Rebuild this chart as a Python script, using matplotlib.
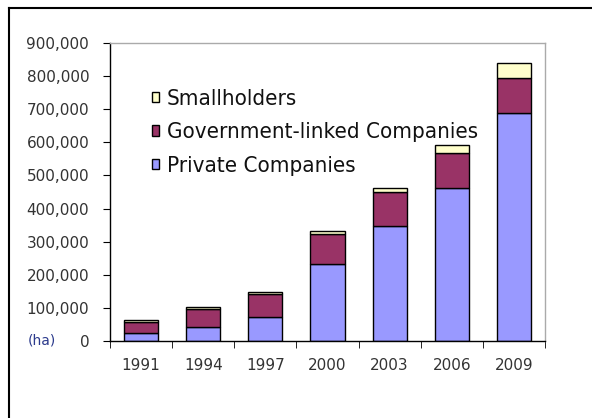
import matplotlib
matplotlib.use("Agg")
import matplotlib.pyplot as plt
import numpy as np
from matplotlib.lines import Line2D

years = ["1991", "1994", "1997", "2000", "2003", "2006", "2009"]
private = [23000, 43000, 73000, 232000, 348000, 463000, 688000]
government = [35000, 55000, 69000, 91000, 103000, 106000, 105000]
smallholders = [5000, 5000, 5000, 8000, 11000, 23000, 48000]
yticks = [0, 100000, 200000, 300000, 400000, 500000, 600000, 700000, 800000, 900000]

fig = plt.figure(figsize=(5.92, 4.18), dpi=100)
fig.patch.set_facecolor("white")
ax = fig.add_axes([110/592, 1-341/418, 435/592, 298/418])

x = np.arange(len(years))
w = 0.55
p = np.array(private)
g = np.array(government)
s = np.array(smallholders)
b1 = ax.bar(x, p, w, color="#9999FF", edgecolor="black", linewidth=1.0, label="Private Companies")
b2 = ax.bar(x, g, w, bottom=p, color="#993366", edgecolor="black", linewidth=1.0, label="Government-linked Companies")
b3 = ax.bar(x, s, w, bottom=p+g, color="#FFFFCC", edgecolor="black", linewidth=1.0, label="Smallholders")

ax.set_xlim(-0.5, len(years)-0.5)
ax.set_ylim(0, 900000)
ax.set_yticks(yticks)
ax.set_yticklabels([f"{v:,}" for v in yticks], fontsize=11, color="#333333")
ax.set_xticks(x)
ax.set_xticklabels(years, fontsize=11, color="#333333")
ax.tick_params(axis="x", length=0, pad=12)
ax.set_xticks(np.arange(-0.5, len(years)), minor=True)
ax.tick_params(axis="x", which="minor", length=5, direction="out", color="black")
ax.tick_params(axis="y", length=5, direction="out", color="black", pad=10)

for side in ["top", "right"]:
    ax.spines[side].set_color("#AAAAAA")
    ax.spines[side].set_linewidth(1.0)
for side in ["left", "bottom"]:
    ax.spines[side].set_color("black")
    ax.spines[side].set_linewidth(1.0)

leg = ax.legend(handles=[b3, b2, b1], loc="upper left", bbox_to_anchor=(0.075, 0.875),
                frameon=False, fontsize=16, handlelength=0.35, handleheight=0.35,
                handletextpad=0.35, labelspacing=0.6, borderaxespad=0)
for t in leg.get_texts():
    t.set_color("#111111")
    t.set_fontstretch("condensed")

fig.text(28/592, 1-340/418, "(ha)", fontsize=10, color="#2B3A8C", va="center", ha="left")

fig.add_artist(Line2D([9/592, 1], [1-8/418, 1-8/418], color="black", linewidth=1.5, transform=fig.transFigure))
fig.add_artist(Line2D([9/592, 9/592], [0, 1-8/418], color="black", linewidth=1.5, transform=fig.transFigure))

fig.savefig("out.png", dpi=100, facecolor="white")
